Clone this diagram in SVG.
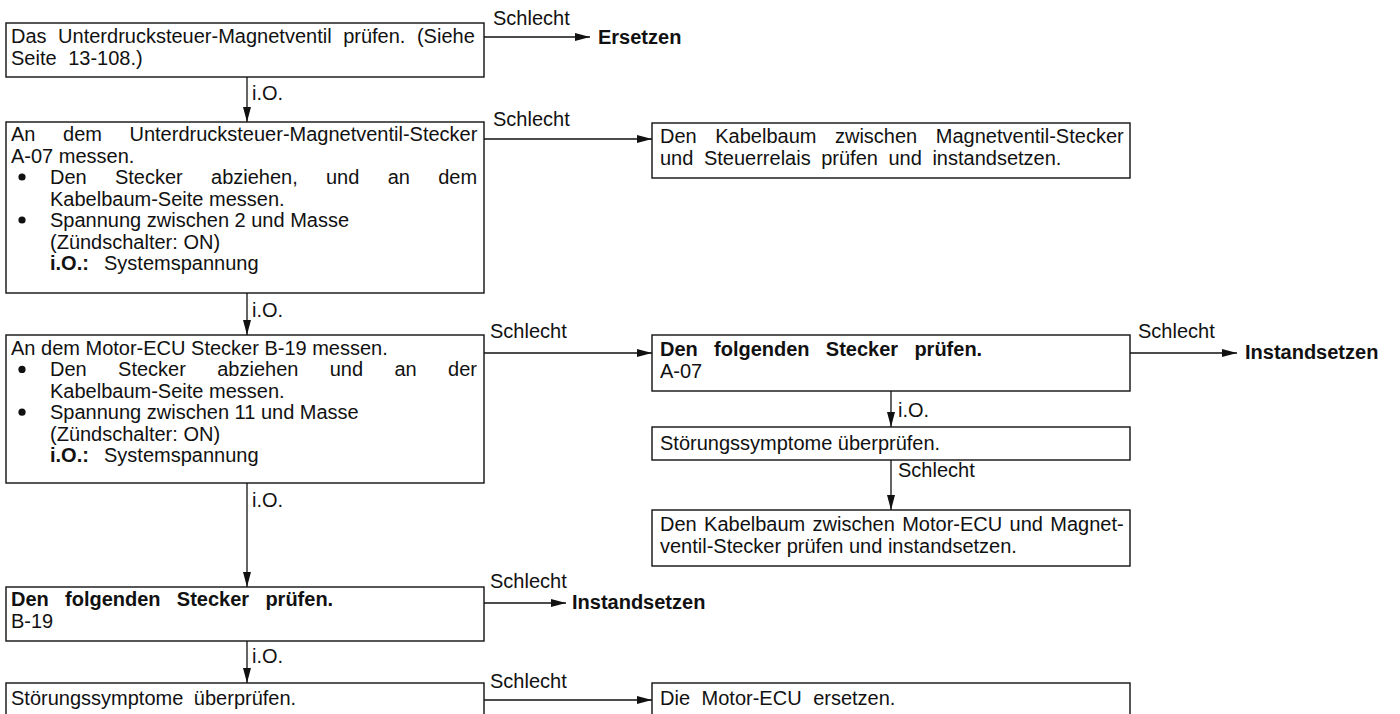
<svg xmlns="http://www.w3.org/2000/svg" width="1400" height="714" viewBox="0 0 1400 714">
<defs>
<marker id="ah" markerWidth="15" markerHeight="8" refX="15" refY="4" orient="auto" markerUnits="userSpaceOnUse"><path d="M0,0 L15,4 L0,8 z" fill="#111"/></marker>
<style>
text{font-family:"Liberation Sans",Arial,sans-serif;font-size:20px;fill:#111}
.b{font-weight:bold}
rect{fill:#fff;stroke:#111;stroke-width:1.4}
.c line{stroke:#111;stroke-width:1.3;marker-end:url(#ah)}
</style>
</defs>
<rect x="0" y="0" width="1400" height="714" style="fill:#fff;stroke:none"/>

<g id="n1">
<rect x="6" y="23" width="478" height="54"/>
<text x="11" y="43" style="word-spacing:6px">Das Unterdrucksteuer-Magnetventil prüfen. (Siehe</text>
<text x="11" y="65" style="word-spacing:6px">Seite 13-108.)</text>
</g>
<g id="n1b"><text x="598" y="44" class="b">Ersetzen</text></g>

<g id="n2">
<rect x="6" y="122" width="478" height="171"/>
<text x="11" y="141" style="word-spacing:22px">An dem Unterdrucksteuer-Magnetventil-Stecker</text>
<text x="11" y="162.5">A-07 messen.</text>
<circle cx="22" cy="177" r="3.6" fill="#111"/>
<text x="50" y="184" style="word-spacing:22.7px">Den Stecker abziehen, und an dem</text>
<text x="50" y="205.5">Kabelbaum-Seite messen.</text>
<circle cx="22" cy="220" r="3.6" fill="#111"/>
<text x="50" y="227">Spannung zwischen 2 und Masse</text>
<text x="50" y="248.5">(Zündschalter: ON)</text>
<text x="50" y="270" class="b">i.O.:</text>
<text x="104" y="270">Systemspannung</text>
</g>

<g id="n3">
<rect x="652" y="123" width="478" height="55"/>
<text x="660" y="143" style="word-spacing:13px">Den Kabelbaum zwischen Magnetventil-Stecker</text>
<text x="660" y="165" style="word-spacing:5px">und Steuerrelais prüfen und instandsetzen.</text>
</g>

<g id="n4">
<rect x="6" y="335" width="478" height="148"/>
<text x="11" y="355">An dem Motor-ECU Stecker B-19 messen.</text>
<circle cx="22" cy="369.4" r="3.6" fill="#111"/>
<text x="50" y="376.4" style="word-spacing:25.8px">Den Stecker abziehen und an der</text>
<text x="50" y="397.8">Kabelbaum-Seite messen.</text>
<circle cx="22" cy="412.2" r="3.6" fill="#111"/>
<text x="50" y="419.2">Spannung zwischen 11 und Masse</text>
<text x="50" y="440.6">(Zündschalter: ON)</text>
<text x="50" y="462" class="b">i.O.:</text>
<text x="104" y="462">Systemspannung</text>
</g>

<g id="n5">
<rect x="652" y="335" width="478" height="56"/>
<text x="660" y="356" class="b" style="word-spacing:10.7px">Den folgenden Stecker prüfen.</text>
<text x="660" y="378">A-07</text>
</g>
<g id="n5b"><text x="1245" y="359" class="b">Instandsetzen</text></g>

<g id="n6">
<rect x="652" y="427" width="478" height="33"/>
<text x="660" y="450">Störungssymptome überprüfen.</text>
</g>

<g id="n7">
<rect x="652" y="510" width="478" height="56"/>
<text x="660" y="531" style="word-spacing:1.8px">Den Kabelbaum zwischen Motor-ECU und Magnet-</text>
<text x="660" y="553">ventil-Stecker prüfen und instandsetzen.</text>
</g>

<g id="n8">
<rect x="6" y="587" width="478" height="54"/>
<text x="11" y="606" class="b" style="word-spacing:10.7px">Den folgenden Stecker prüfen.</text>
<text x="11" y="628">B-19</text>
</g>
<g id="n8b"><text x="572" y="609" class="b">Instandsetzen</text></g>

<g id="n9">
<rect x="6" y="683" width="478" height="60"/>
<text x="11" y="705" style="word-spacing:5px">Störungssymptome überprüfen.</text>
</g>

<g id="n10">
<rect x="652" y="683" width="478" height="60"/>
<text x="660" y="705" style="word-spacing:6px">Die Motor-ECU ersetzen.</text>
</g>

<g id="connectors" class="c">
<line x1="484" y1="37" x2="590" y2="37"/>
<line x1="247" y1="77" x2="247" y2="122"/>
<line x1="484" y1="139" x2="652" y2="139"/>
<line x1="247" y1="293" x2="247" y2="335"/>
<line x1="484" y1="353" x2="652" y2="353"/>
<line x1="1130" y1="353" x2="1237" y2="353"/>
<line x1="891" y1="391" x2="891" y2="427"/>
<line x1="891" y1="460" x2="891" y2="510"/>
<line x1="247" y1="483" x2="247" y2="587"/>
<line x1="484" y1="603" x2="566" y2="603"/>
<line x1="247" y1="641" x2="247" y2="683"/>
<line x1="484" y1="700" x2="652" y2="700"/>
</g>

<g id="labels">
<text x="493" y="25">Schlecht</text>
<text x="252" y="100">i.O.</text>
<text x="493" y="126">Schlecht</text>
<text x="252" y="317">i.O.</text>
<text x="490" y="338">Schlecht</text>
<text x="1138" y="338">Schlecht</text>
<text x="898" y="417">i.O.</text>
<text x="898" y="477">Schlecht</text>
<text x="252" y="507">i.O.</text>
<text x="490" y="588">Schlecht</text>
<text x="252" y="663">i.O.</text>
<text x="490" y="688">Schlecht</text>
</g>
</svg>
